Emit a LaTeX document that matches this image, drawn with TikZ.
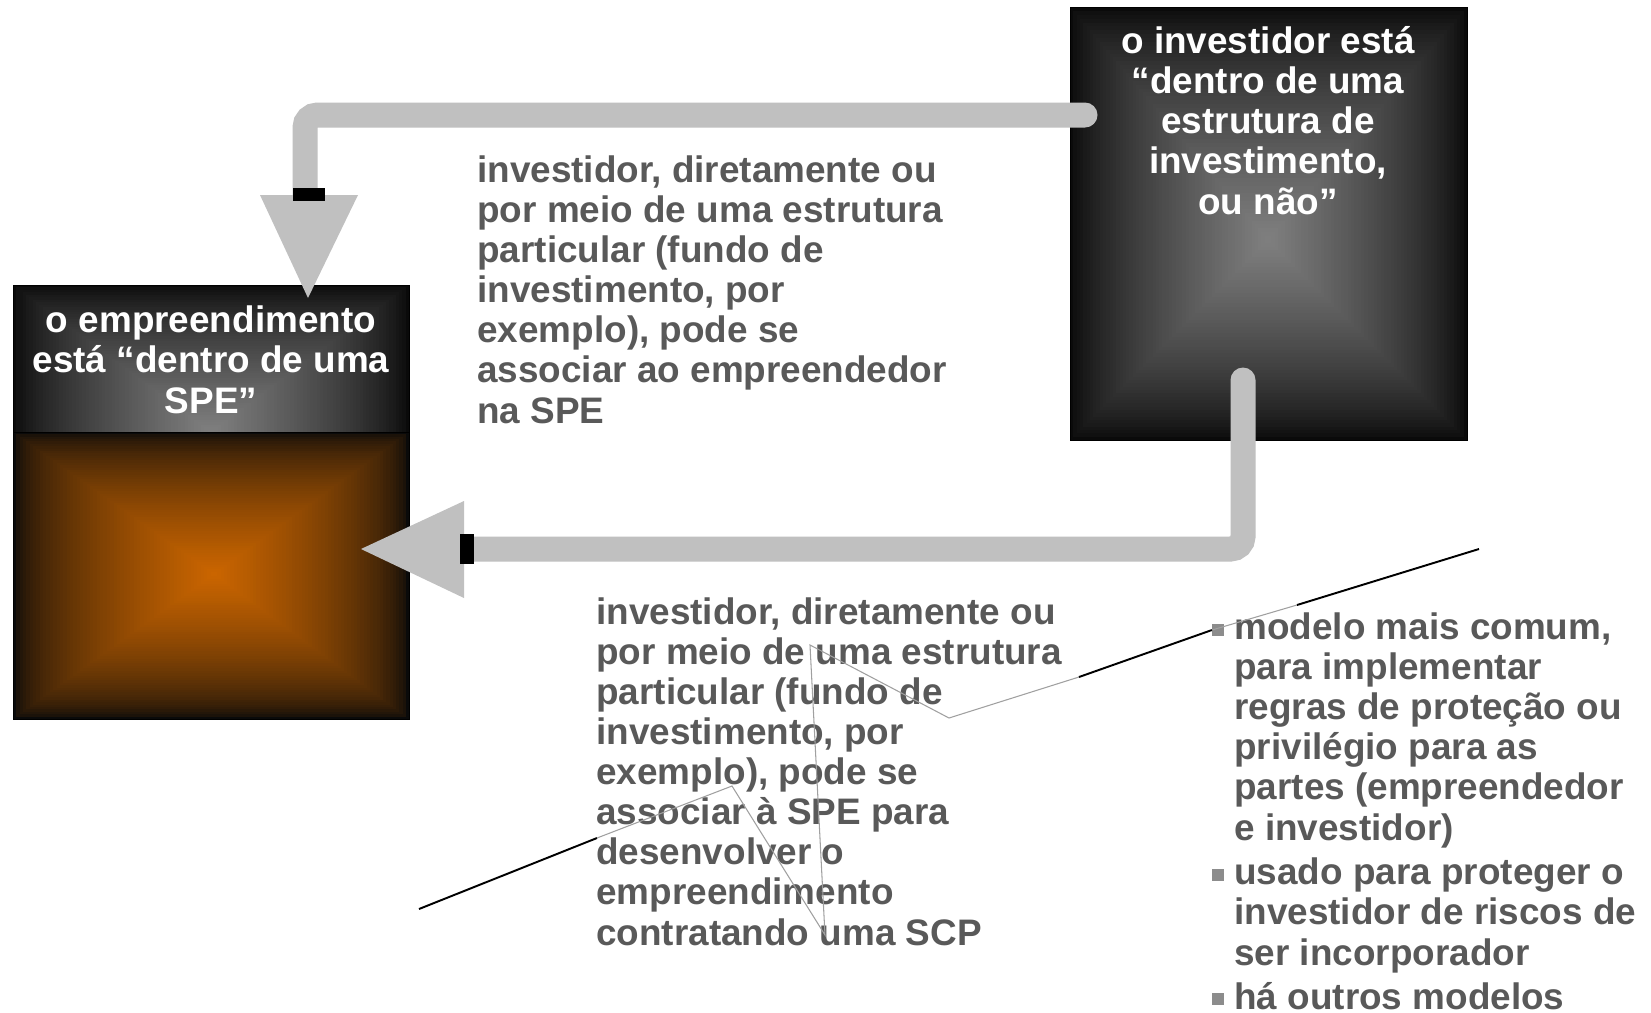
\documentclass[tikz,border=0pt]{standalone}
\usepackage{fontspec}
\setmainfont{Liberation Sans}
\usepackage{tikz}
\usepackage{xcolor}

\definecolor{connGrey}{HTML}{C0C0C0}
\definecolor{textGrey}{HTML}{595959}
\definecolor{glowGrey}{HTML}{808080}
\definecolor{boxBlack}{HTML}{0A0A0A}
\definecolor{speOrange}{HTML}{CC6600}
\definecolor{bulletGrey}{HTML}{8C8C8C}
\definecolor{lineGrey}{HTML}{A0A0A0}

\tikzset{
  bigtext/.style={font=\bfseries\fontsize{21}{22.8}\selectfont, inner sep=0pt},
  boxtext/.style={bigtext, text=white, align=center},
  bodytext/.style={bigtext, text=textGrey, align=left},
  connector/.style={connGrey, line width=0.5cm, line cap=round, rounded corners=0.25cm},
  arrowhead/.style={fill=connGrey},
  stopbar/.style={fill=black},
  bulletsq/.style={fill=bulletGrey},
}

% rectangle glow: #1,#2 top left, #3,#4 bottom right, #5,#6 glow centre, #7 glow colour, #8 exponent
\newcommand{\glowbox}[8]{%
  \foreach \i in {0,...,60} {
    \pgfmathsetmacro{\gf}{\i/60}
    \pgfmathsetmacro{\gp}{100*(\gf)^#8}
    \fill[#7!\gp!boxBlack] ({#1+(#5-#1)*\gf},{#2+(#6-#2)*\gf}) rectangle ({#3+(#5-#3)*\gf},{#4+(#6-#4)*\gf});
  }
  \draw[black, thin] (#1,#2) rectangle (#3,#4);
}

\begin{document}
\begin{tikzpicture}[x=0.02cm, y=-0.02cm]
\useasboundingbox (0,0) rectangle (1651,1012);
\clip (0,0) rectangle (1651,1012);
\fill[white] (0,0) rectangle (1651,1012);

% Draw the SPE box (header and body)
\glowbox{13}{285}{409}{432}{211}{432}{glowGrey}{0.75}
\glowbox{13}{432}{409}{719}{214}{574}{speOrange}{0.6}

% Draw the investor box
\glowbox{1070}{7}{1467}{440}{1268}{240}{glowGrey}{0.75}

% Box texts (anchored on the last line)
\node[boxtext, anchor=base] (spetext) at (211,413) {o empreendimento\\está “dentro de uma\\SPE”};
\node[boxtext, anchor=base] (invtext) at (1268,214) {o investidor está\\“dentro de uma\\estrutura de\\investimento,\\ou não”};

% Connector ends
\coordinate (invout) at (1085,115);
\coordinate (topbend) at (305,115);
\coordinate (topend) at (305,195);
\coordinate (toptip) at (308,298);
\coordinate (invdown) at (1243,380);
\coordinate (botbend) at (1243,549);
\coordinate (botend) at (468,549);
\coordinate (bottip) at (361,549);

% Top connector
\draw[connector] (invout) -- (topbend) -- (topend);
\fill[arrowhead] (260,195) -- (358,195) -- (toptip) -- cycle;
\fill[stopbar] (293,188) rectangle (325,201);

% Bottom connector
\draw[connector] (invdown) -- (botbend) -- (botend);
\fill[arrowhead] (464,501) -- (464,598) -- (bottip) -- cycle;
\fill[stopbar] (460,534) rectangle (474,564);

% Middle texts
\node[bodytext, anchor=base west] (assoctext) at (477,423) {investidor, diretamente ou\\por meio de uma estrutura\\particular (fundo de\\investimento, por\\exemplo), pode se\\associar ao empreendedor\\na SPE};
\node[bodytext, anchor=base west] (scptext) at (596,945) {investidor, diretamente ou\\por meio de uma estrutura\\particular (fundo de\\investimento, por\\exemplo), pode se\\associar à SPE para\\desenvolver o\\empreendimento\\contratando uma SCP};

% Bullet list
\node[bodytext, anchor=base west] (item1) at (1234,840) {modelo mais comum,\\para implementar\\regras de proteção ou\\privilégio para as\\partes (empreendedor\\e investidor)};
\node[bodytext, anchor=base west] (item2) at (1234,965) {usado para proteger o\\investidor de riscos de\\ser incorporador};
\node[bodytext, anchor=base west] (item3) at (1234,1009) {há outros modelos};
\foreach \b in {640,885,1009} {
  \fill[bulletsq] (1212,\b-16) rectangle (1224,\b-4);
}

% Stray line
\draw[black, line width=1.1pt] (419,909) -- (597,838);
\draw[lineGrey, line width=0.6pt] (597,838) -- (732,786) -- (825,935) -- (810,645) -- (949,718) -- (1079,677);
\draw[black, line width=1.1pt] (1079,677) -- (1212,630);
\draw[lineGrey, line width=0.6pt] (1212,630) -- (1297,605);
\draw[black, line width=1.1pt] (1297,605) -- (1479,549);
\end{tikzpicture}
\end{document}
